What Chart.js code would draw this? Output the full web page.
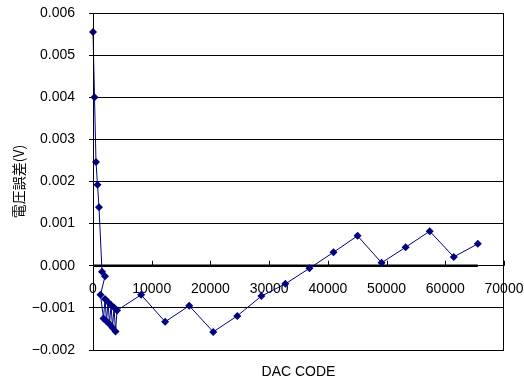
<!DOCTYPE html>
<html>
<head>
<meta charset="utf-8">
<script src="https://cdn.jsdelivr.net/npm/chart.js@4/dist/chart.umd.min.js"></script>
<style>
html,body{margin:0;padding:0;background:#fff;}
#wrap{width:524px;height:384px;position:relative;}
</style>
</head>
<body>
<div id="wrap"><canvas id="c" width="524" height="384"></canvas></div>
<script>
// DAC codes and measured voltage error (V)
const dacCodes = [0, 256, 512, 768, 1024, 1536, 2048, 1280,
  1792, 2048, 2304, 2560, 2816, 3072, 3328, 3584, 3840, 4096,
  8192, 12288, 16384, 20480, 24576, 28672, 32768, 36864,
  40960, 45056, 49152, 53248, 57344, 61440, 65535];
const voltageError = [0.00555, 0.00400, 0.00246, 0.00192, 0.00139, -0.00014, -0.00025, -0.00069,
  -0.00125, -0.00079, -0.00132, -0.00086, -0.00139, -0.00093, -0.00147, -0.00099, -0.00156, -0.00106,
  -0.00069, -0.00133, -0.00095, -0.00157, -0.00119, -0.00072, -0.00043, -0.00006,
  0.00032, 0.00071, 0.00007, 0.00044, 0.00082, 0.00021, 0.00052];
const zeroLineCodes = [0, 65535];
const xTickValues = [0, 10000, 20000, 30000, 40000, 50000, 60000, 70000];
const yTickValues = [-0.002, -0.001, 0, 0.001, 0.002, 0.003, 0.004, 0.005, 0.006];
const yTitle = '電圧誤差(V)';
const xTitle = 'DAC CODE';

const FONT = "'Liberation Sans', Arial, sans-serif";
const CJK = "'Noto Sans CJK JP', 'Liberation Sans', sans-serif";

const frame = {
  id: 'frame',
  afterDraw(chart) {
    const {ctx, chartArea: a} = chart;
    const xs = chart.scales.x, ys = chart.scales.y;
    const y0 = ys.getPixelForValue(0);
    ctx.save();
    ctx.strokeStyle = '#000';
    ctx.lineWidth = 1;
    ctx.strokeRect(Math.round(a.left) + 0.5, Math.round(a.top) + 0.5,
      Math.round(a.right - a.left) - 1, Math.round(a.bottom - a.top));
    ctx.beginPath();
    xTickValues.forEach(v => {
      const px = Math.round(xs.getPixelForValue(v)) + 0.5;
      ctx.moveTo(px, y0);
      ctx.lineTo(px, y0 - 5);
    });
    ctx.stroke();
    ctx.restore();
  }
};

const noSidePad = s => { s.paddingLeft = 0; s.paddingRight = 0; };

new Chart(document.getElementById('c'), {
  type: 'scatter',
  data: {
    datasets: [
      {
        data: dacCodes.map((c, i) => ({x: c, y: voltageError[i]})),
        showLine: true,
        borderColor: '#000080',
        backgroundColor: '#000080',
        borderWidth: 1,
        pointStyle: 'rectRot',
        pointRadius: 4,
        pointBorderWidth: 0,
        clip: false,
        order: 1
      },
      {
        data: zeroLineCodes.map(c => ({x: c, y: 0})),
        showLine: true,
        borderColor: '#000',
        borderWidth: 2.5,
        pointRadius: 0,
        order: 2
      }
    ]
  },
  options: {
    responsive: false,
    animation: false,
    events: [],
    layout: {padding: {top: 13, right: 20, left: 0, bottom: 0}},
    plugins: {legend: {display: false}, tooltip: {enabled: false}},
    scales: {
      x: {
        type: 'linear',
        position: {y: 0},
        min: 0, max: 70000,
        afterBuildTicks: s => { s.ticks = xTickValues.map(v => ({value: v})); },
        afterFit: noSidePad,
        grid: {display: false},
        border: {display: false},
        ticks: {
          padding: 7,
          color: '#000',
          font: {family: FONT, size: 14},
          maxRotation: 0,
          callback: v => String(v)
        }
      },
      xb: {
        type: 'linear',
        position: 'bottom',
        min: 0, max: 70000,
        grid: {display: false},
        border: {display: false},
        ticks: {display: false},
        afterFit: s => { s.height = 34; noSidePad(s); },
        title: {display: true, text: xTitle, color: '#000',
          font: {family: FONT, size: 14}, padding: {top: 0, bottom: 3}}
      },
      y: {
        type: 'linear',
        min: -0.002, max: 0.006,
        afterBuildTicks: s => { s.ticks = yTickValues.map(v => ({value: v})); },
        afterFit: s => { s.width = 93; s.paddingTop = 0; s.paddingBottom = 0; },
        grid: {color: '#000', lineWidth: 1, tickLength: 4, tickColor: '#000'},
        border: {display: true, color: '#000', width: 1},
        ticks: {
          padding: 14,
          color: '#000',
          font: {family: FONT, size: 14},
          callback: v => (v < -1e-9 ? '\u2212' : '') + Math.abs(v).toFixed(3)
        },
        title: {display: true, text: yTitle, color: '#000',
          font: {family: CJK, size: 14}, padding: {top: 10, bottom: 0}}
      }
    }
  },
  plugins: [frame]
});
</script>
</body>
</html>
